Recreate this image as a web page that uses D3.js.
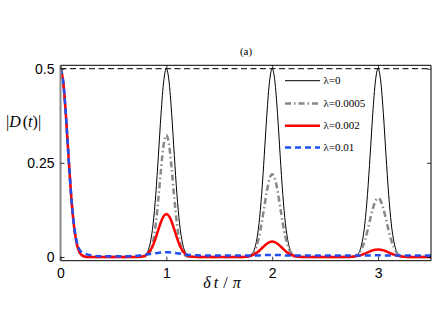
<!DOCTYPE html>
<html><head><meta charset="utf-8">
<script src="https://cdn.jsdelivr.net/npm/d3@7"></script>
<style>html,body{margin:0;padding:0;background:#fff;}svg{display:block;}</style>
</head><body>
<svg id="c" width="436" height="328"></svg>
<script>
const tValues = [0,0.025,0.05,0.075,0.1,0.125,0.15,0.175,0.2,0.25,0.3,0.4,0.5,0.6,
 0.7,0.75,0.8,0.825,0.85,0.875,0.9,0.925,0.95,0.975,1,1.025,1.05,1.075,1.1,1.125,1.15,1.175,1.2,1.25,1.3,1.4,1.5,1.6,
 1.7,1.75,1.8,1.825,1.85,1.875,1.9,1.925,1.95,1.975,2,2.025,2.05,2.075,2.1,2.125,2.15,2.175,2.2,2.25,2.3,2.4,2.5,2.6,
 2.7,2.75,2.8,2.825,2.85,2.875,2.9,2.925,2.95,2.975,3,3.025,3.05,3.075,3.1,3.125,3.15,3.175,3.2,3.25,3.3,3.4,3.5];

const lambda0 = [0.5,0.467,0.381,0.27,0.166,0.088,0.04,0.015,0.005,0,0,0,0,0,
 0,0,0.005,0.015,0.04,0.088,0.166,0.27,0.381,0.467,0.5,0.467,0.381,0.27,0.166,0.088,0.04,0.015,0.005,0,0,0,0,0,
 0,0,0.005,0.015,0.04,0.088,0.166,0.27,0.381,0.467,0.5,0.467,0.381,0.27,0.166,0.088,0.04,0.015,0.005,0,0,0,0,0,
 0,0,0.005,0.015,0.04,0.088,0.166,0.27,0.381,0.467,0.5,0.467,0.381,0.27,0.166,0.088,0.04,0.015,0.005,0,0,0,0];

const lambda0005 = [0.5,0.467,0.381,0.27,0.166,0.088,0.04,0.015,0.005,0,0,0,0,0,
 0,0,0.001,0.005,0.016,0.042,0.088,0.156,0.235,0.299,0.324,0.299,0.235,0.156,0.088,0.042,0.016,0.005,0.001,0,0,0,0,0,
 0,0.0004,0.005,0.012,0.027,0.053,0.089,0.133,0.176,0.208,0.22,0.208,0.176,0.133,0.089,0.053,0.027,0.012,0.005,0.0004,0,0,0,0,
 0,0.0006,0.005,0.012,0.025,0.044,0.07,0.1,0.128,0.149,0.156,0.149,0.128,0.1,0.07,0.044,0.025,0.012,0.005,0.0006,0,0,0];

const lambda002 = [0.5,0.467,0.381,0.27,0.166,0.088,0.04,0.015,0.005,0,0,0,0,0,
 0,0.0004,0.0038,0.0089,0.018,0.032,0.051,0.073,0.0935,0.1085,0.114,0.1085,0.0935,0.073,0.051,0.032,0.018,0.0089,0.0038,0.0004,0,0,0,0,
 0.0001,0.0006,0.0032,0.0061,0.0103,0.0159,0.0225,0.0293,0.0353,0.0395,0.041,0.0395,0.0353,0.0293,0.0225,0.0159,0.0103,0.0061,0.0032,0.0006,0.0001,0,0,0,
 0.0001,0.0006,0.0024,0.0041,0.0063,0.0091,0.0121,0.0151,0.0177,0.0194,0.02,0.0194,0.0177,0.0151,0.0121,0.0091,0.0063,0.0041,0.0024,0.0006,0.0001,0,0];

const lambda01 = [0.5,0.467,0.381,0.27,0.166,0.09,0.045,0.022,0.013,0.007,0.004,0.002,0.002,0.002,
 0.003,0.004,0.006,0.007,0.008,0.009,0.01,0.011,0.012,0.0125,0.0125,0.0125,0.012,0.011,0.01,0.009,0.008,0.007,0.006,0.005,0.0045,0.004,0.004,0.004,
 0.004,0.004,0.004,0.004,0.004,0.004,0.005,0.005,0.005,0.005,0.005,0.005,0.005,0.005,0.005,0.004,0.004,0.004,0.004,0.004,0.004,0.004,0.004,0.004,
 0.004,0.004,0.004,0.004,0.004,0.004,0.004,0.0042,0.0044,0.0045,0.0045,0.0045,0.0044,0.0042,0.004,0.004,0.004,0.004,0.004,0.004,0.004,0.004,0.004];

const seriesLabels = ["λ=0","λ=0.0005","λ=0.002","λ=0.01"];
const xTicks = [0,1,2,3];
const yTicks = [0,0.25,0.5];
const yTickLabels = ["0","0.25","0.5"];
const refLevel = 0.5;
const titleText = "(a)";

const svg = d3.select("#c");
const L = 60.5, R = 431, T = 65.3, B = 260.7;
const x = d3.scaleLinear().domain([0,3.5]).range([L,R]);
const y0 = d3.scaleLinear().domain([0,0.5]).range([257,68.7]);
const y = d3.scaleLinear().domain([y0.invert(B), y0.invert(T)]).range([B, T]);

const styles = [
  {color:"#000", width:1, dash:null},
  {color:"#888", width:2.5, dash:"6,3,1.5,3"},
  {color:"#ff0000", width:2.5, dash:null},
  {color:"#1f4ff0", width:2.5, dash:"6,4"}
];
const data = [lambda0, lambda0005, lambda002, lambda01];

svg.append("defs").append("clipPath").attr("id","clip")
  .append("rect").attr("x",L).attr("y",T-3).attr("width",R-L).attr("height",B-T+3);

svg.append("line").attr("x1",L).attr("x2",R).attr("y1",y(refLevel)).attr("y2",y(refLevel))
  .attr("stroke","#000").attr("stroke-width",1).attr("stroke-dasharray","6,3.5");

const line = d3.line().x((d,i)=>x(tValues[i])).y(d=>y(d)).curve(d3.curveMonotoneX);
const g = svg.append("g").attr("clip-path","url(#clip)");
data.forEach((s,k)=>{
  g.append("path").attr("d",line(s)).attr("fill","none")
   .attr("stroke",styles[k].color).attr("stroke-width",styles[k].width)
   .attr("stroke-dasharray",styles[k].dash).attr("stroke-linejoin","round");
});

svg.append("line").attr("x1",L).attr("x2",R).attr("y1",T).attr("y2",T).attr("stroke","#000").attr("stroke-width",1);
svg.append("line").attr("x1",L).attr("x2",R).attr("y1",B).attr("y2",B).attr("stroke","#000").attr("stroke-width",1);
svg.append("line").attr("x1",R).attr("x2",R).attr("y1",T).attr("y2",B).attr("stroke","#000").attr("stroke-width",1);
svg.append("line").attr("x1",L).attr("x2",L).attr("y1",T).attr("y2",B).attr("stroke","#888").attr("stroke-width",2);

const xAxisB = d3.axisBottom(x).tickValues(xTicks).tickSize(-4).tickPadding(7).tickFormat(d3.format("d"));
const xAxisT = d3.axisTop(x).tickValues(xTicks).tickSize(-4).tickFormat("");
const yAxisL = d3.axisLeft(y).tickValues(yTicks).tickSize(-4).tickPadding(6).tickFormat((d,i)=>yTickLabels[i]);
const yAxisR = d3.axisRight(y).tickValues(yTicks).tickSize(-4).tickFormat("");
function styleAxis(sel){
  sel.select(".domain").remove();
  sel.selectAll(".tick line").attr("stroke","#000").attr("stroke-width",0.8);
  sel.selectAll(".tick text").attr("fill","#000").style("font-family","'Liberation Sans',Arial,sans-serif").style("font-size","14px");
}
svg.append("g").attr("transform",`translate(0,${B})`).call(xAxisB).call(styleAxis);
svg.append("g").attr("transform",`translate(0,${T})`).call(xAxisT).call(styleAxis);
svg.append("g").attr("transform",`translate(${L},0)`).call(yAxisL).call(styleAxis);
svg.append("g").attr("transform",`translate(${R},0)`).call(yAxisR).call(styleAxis);

svg.append("text").attr("x",246).attr("y",55).attr("text-anchor","middle")
  .style("font-family","'Liberation Serif','DejaVu Serif',serif").style("font-size","11px").text(titleText);

const yl = svg.append("text").attr("x",6).attr("y",127)
  .style("font-family","'Liberation Serif',serif").style("font-size","16px");
yl.append("tspan").text("|");
yl.append("tspan").style("font-style","italic").text("D");
yl.append("tspan").attr("dx",2).text("(");
yl.append("tspan").style("font-style","italic").text("t");
yl.append("tspan").text(")|");

const xl = svg.append("text").attr("x",222).attr("y",288).attr("text-anchor","middle")
  .style("font-family","'Liberation Serif',serif").style("font-size","16px").style("font-style","italic");
xl.append("tspan").text("δ");
xl.append("tspan").attr("dx",3).text("t");
xl.append("tspan").attr("dx",5).style("font-style","normal").text("/");
xl.append("tspan").attr("dx",5).text("π");

const legY = [80.7,103.5,125.7,147.5];
seriesLabels.forEach((lab,k)=>{
  svg.append("line").attr("x1",285).attr("x2",320).attr("y1",legY[k]).attr("y2",legY[k])
    .attr("stroke",styles[k].color).attr("stroke-width",styles[k].width).attr("stroke-dasharray",styles[k].dash);
  svg.append("text").attr("x",323.5).attr("y",legY[k]+3.5)
    .style("font-family","'Liberation Serif','DejaVu Serif',serif").style("font-size","11px").text(lab);
});
</script>
</body></html>
